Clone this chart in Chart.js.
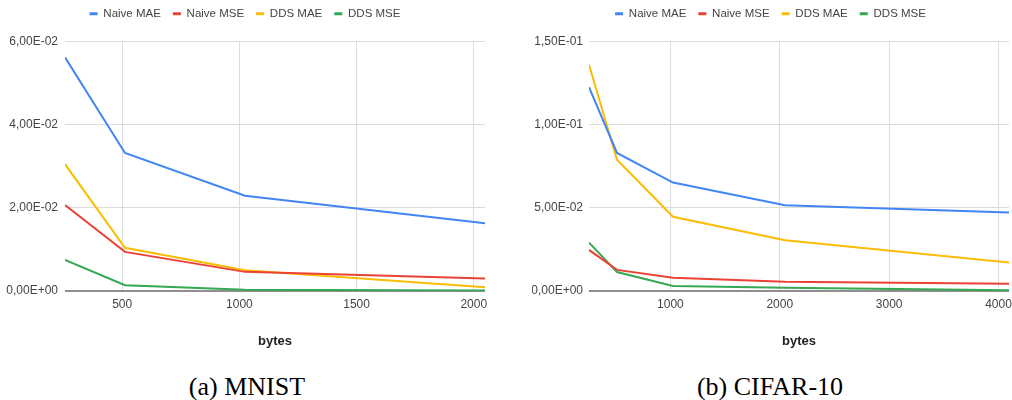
<!DOCTYPE html>
<html>
<head>
<meta charset="utf-8">
<script src="https://cdn.jsdelivr.net/npm/chart.js@4.4.1/dist/chart.umd.min.js"></script>
<style>
  body { margin: 0; background: #fff; width: 1012px; height: 400px; position: relative; overflow: hidden; }
  canvas { position: absolute; top: 0; }
  #mnist { left: 0; }
  #cifar { left: 528px; }
  .caption { position: absolute; top: 372px; font-family: 'Liberation Serif', 'Times New Roman', serif;
    font-size: 26px; line-height: 30px; color: #000; text-align: center; }
</style>
</head>
<body>
<canvas id="mnist" width="500" height="360"></canvas>
<canvas id="cifar" width="484" height="360"></canvas>
<div class="caption" style="left:0;width:494px">(a) MNIST</div>
<div class="caption" style="left:528px;width:484px">(b) CIFAR-10</div>
<script>
// series names / colours (google sheets palette)
const seriesNames = ['Naive MAE', 'Naive MSE', 'DDS MAE', 'DDS MSE'];
const seriesColors = ['#4285F4', '#EA4335', '#FBBC04', '#34A853'];

// MNIST
const mnistBytes = [256, 512, 1024, 2048];
const mnistNaiveMae = [0.0562, 0.0332, 0.0229, 0.0163];
const mnistNaiveMse = [0.0207, 0.0094, 0.0046, 0.0030];
const mnistDdsMae = [0.0305, 0.0104, 0.0050, 0.0009];
const mnistDdsMse = [0.0075, 0.0014, 0.0003, 0.0001];
const mnistXTicks = [500, 1000, 1500, 2000];
const mnistYTicks = [0, 0.02, 0.04, 0.06];

// CIFAR-10
const cifarBytes = [256, 512, 1024, 2048, 4096];
const cifarNaiveMae = [0.1225, 0.0830, 0.0652, 0.0516, 0.0472];
const cifarNaiveMse = [0.0247, 0.0127, 0.0080, 0.0056, 0.0044];
const cifarDdsMae = [0.1360, 0.0789, 0.0446, 0.0305, 0.0171];
const cifarDdsMse = [0.0291, 0.0114, 0.0030, 0.0020, 0.0004];
const cifarXTicks = [1000, 2000, 3000, 4000];
const cifarYTicks = [0, 0.05, 0.10, 0.15];

// 0.06 -> "6,00E-02"
function sciLabel(v) {
  const parts = Number(v).toExponential(2).split('e');
  const sign = parts[1][0];
  const digits = parts[1].slice(1).padStart(2, '0');
  return parts[0].replace('.', ',') + 'E' + sign + digits;
}

// push the plot area down a bit below the legend
const legendGap = {
  id: 'legendGap',
  beforeLayout(chart) {
    const lg = chart.legend;
    if (lg && !lg._gapPatched) {
      const fit = lg.fit;
      lg.fit = function () { fit.call(this); this.height += 12; };
      lg._gapPatched = true;
    }
  }
};

function makeChart(id, bytes, series, xTicks, yTicks, cfg) {
  const ctx = document.getElementById(id).getContext('2d');
  const datasets = series.map((vals, i) => ({
    label: seriesNames[i],
    data: bytes.map((b, j) => ({ x: b, y: vals[j] })),
    borderColor: seriesColors[i],
    backgroundColor: seriesColors[i],
    borderWidth: 2,
    pointRadius: 0,
    tension: 0
  }));
  const font = { family: "'Liberation Sans', Arial, sans-serif", size: 12 };

  return new Chart(ctx, {
    type: 'line',
    data: { datasets: datasets },
    plugins: [legendGap],
    options: {
      responsive: false,
      animation: false,
      layout: { padding: { top: -4, left: cfg.padLeft, right: cfg.padRight, bottom: 11 } },
      plugins: {
        legend: {
          position: 'top',
          labels: {
            color: '#444',
            font: { family: "'Liberation Sans', Arial, sans-serif", size: 11.5 },
            boxWidth: 8,
            boxHeight: 3,
            padding: 12,
            generateLabels: chart => Chart.defaults.plugins.legend.labels.generateLabels(chart)
              .map(l => Object.assign(l, { lineWidth: 0 }))
          }
        },
        tooltip: { enabled: false }
      },
      scales: {
        x: {
          type: 'linear',
          min: bytes[0],
          max: bytes[bytes.length - 1],
          afterBuildTicks: s => { s.ticks = xTicks.map(v => ({ value: v })); },
          ticks: {
            padding: 6,
            color: '#444',
            font: font,
            callback: v => String(v)
          },
          grid: { color: '#dcdcdc', drawTicks: false },
          border: { display: false },
          title: {
            display: true,
            text: 'bytes',
            color: '#222',
            font: { family: "'Liberation Sans', Arial, sans-serif", size: 13, weight: 'bold' },
            padding: { top: 16, bottom: 0 }
          },
          afterFit: s => { s.paddingLeft = 0; s.paddingRight = 0; }
        },
        y: {
          min: yTicks[0],
          max: yTicks[yTicks.length - 1],
          afterBuildTicks: s => { s.ticks = yTicks.map(v => ({ value: v })); },
          ticks: {
            padding: cfg.yPad,
            color: '#444',
            font: font,
            callback: v => sciLabel(v)
          },
          grid: {
            drawTicks: false,
            color: c => c.tick.value === 0 ? '#8f8f8f' : '#dcdcdc',
            lineWidth: c => c.tick.value === 0 ? 2 : 1
          },
          border: { display: false },
          afterFit: s => { s.width = cfg.yWidth; }
        }
      }
    }
  });
}

makeChart('mnist', mnistBytes,
  [mnistNaiveMae, mnistNaiveMse, mnistDdsMae, mnistDdsMse], mnistXTicks, mnistYTicks,
  { padLeft: 5, padRight: 15, yWidth: 60, yPad: 7 });

makeChart('cifar', cifarBytes,
  [cifarNaiveMae, cifarNaiveMse, cifarDdsMae, cifarDdsMse], cifarXTicks, cifarYTicks,
  { padLeft: 4, padRight: 3, yWidth: 57, yPad: 6 });
</script>
</body>
</html>
